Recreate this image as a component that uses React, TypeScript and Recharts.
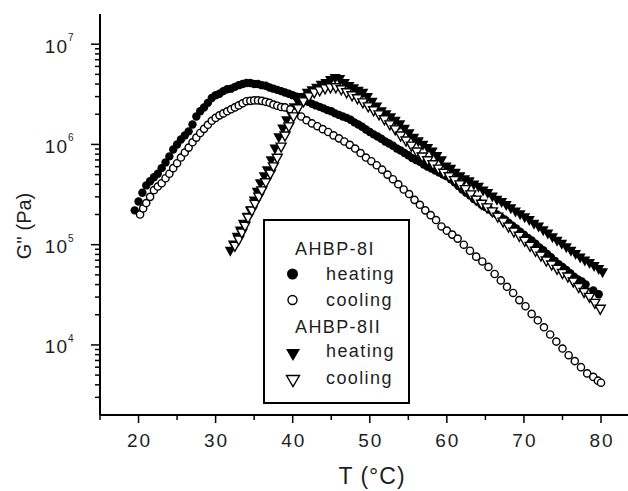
import React from 'react';
import { ScatterChart, Scatter, XAxis, YAxis, Legend } from 'recharts';

// [T (°C), G'' (Pa)]
const heating8I: [number, number][] = [
  [19.5, 2.2e5], [20.0, 2.7e5], [20.5, 3.3e5], [21.0, 3.9e5], [21.5, 4.3e5], [22.0, 4.7e5], [22.5, 5.1e5],
  [23.0, 5.8e5], [23.5, 6.6e5], [24.0, 7.6e5], [24.5, 8.9e5], [25.0, 1.0e6], [25.5, 1.12e6], [26.0, 1.23e6],
  [26.5, 1.35e6], [27.0, 1.58e6], [27.5, 1.9e6], [28.0, 2.14e6], [28.5, 2.34e6], [29.0, 2.6e6], [29.5, 2.9e6],
  [30.0, 3.1e6], [30.5, 3.2e6], [31.0, 3.4e6], [31.5, 3.55e6], [32.0, 3.6e6], [32.5, 3.75e6], [33.0, 3.9e6],
  [33.5, 4.0e6], [34.0, 4.1e6], [34.5, 4.1e6], [35.0, 4.0e6], [35.5, 4.0e6], [36.0, 3.9e6], [36.5, 3.85e6],
  [37.0, 3.7e6], [37.5, 3.6e6], [38.0, 3.5e6], [38.5, 3.4e6], [39.0, 3.3e6], [39.5, 3.2e6], [40.0, 3.1e6],
  [40.5, 3.0e6], [41.0, 2.9e6], [41.5, 2.75e6], [42.0, 2.66e6], [42.5, 2.54e6], [43.0, 2.45e6], [43.5, 2.37e6],
  [44.0, 2.29e6], [44.5, 2.2e6], [45.0, 2.14e6], [45.5, 2.04e6], [46.0, 1.97e6], [46.5, 1.9e6], [47.0, 1.84e6],
  [47.5, 1.76e6], [48.0, 1.66e6], [48.5, 1.58e6], [49.0, 1.5e6], [49.5, 1.41e6], [50.0, 1.33e6], [50.5, 1.26e6],
  [51.0, 1.2e6], [51.5, 1.14e6], [52.0, 1.07e6], [52.5, 1.02e6], [53.0, 9.7e5], [53.5, 9.1e5], [54.0, 8.7e5],
  [54.5, 8.2e5], [55.0, 7.8e5], [55.5, 7.3e5], [56.0, 7.0e5], [56.5, 6.7e5], [57.0, 6.3e5], [57.5, 6.0e5],
  [58.0, 5.75e5], [58.5, 5.5e5], [59.0, 5.25e5], [59.5, 5.0e5], [60.0, 4.8e5], [60.5, 4.5e5], [61.0, 4.2e5],
  [61.5, 3.85e5], [62.0, 3.55e5], [62.5, 3.3e5], [63.0, 3.1e5], [63.5, 2.85e5], [64.0, 2.7e5], [64.5, 2.5e5],
  [65.0, 2.37e5], [65.5, 2.24e5], [66.0, 2.1e5], [66.5, 2.0e5], [67.0, 1.88e5], [67.5, 1.78e5], [68.0, 1.66e5],
  [68.5, 1.55e5], [69.0, 1.45e5], [69.5, 1.35e5], [70.0, 1.26e5], [70.5, 1.17e5], [71.0, 1.1e5], [71.5, 1.02e5],
  [72.0, 9.4e4], [72.5, 8.8e4], [73.0, 8.1e4], [73.5, 7.5e4], [74.0, 6.9e4], [74.5, 6.4e4], [75.0, 6.0e4],
  [75.5, 5.6e4], [76.0, 5.2e4], [76.5, 4.8e4], [77.0, 4.5e4], [77.5, 4.3e4], [78.0, 4.0e4], [79.0, 3.5e4],
  [79.7, 3.2e4],
];

const cooling8I: [number, number][] = [
  [20.2, 2.0e5], [20.6, 2.3e5], [21.0, 2.6e5], [21.5, 3.0e5], [22.0, 3.5e5], [22.5, 3.8e5], [23.0, 4.1e5],
  [23.5, 4.6e5], [24.0, 5.1e5], [24.5, 5.8e5], [25.0, 6.5e5], [25.5, 7.4e5], [26.0, 8.3e5], [26.5, 9.3e5],
  [27.0, 1.05e6], [27.5, 1.17e6], [28.0, 1.3e6], [28.5, 1.43e6], [29.0, 1.57e6], [29.5, 1.72e6], [30.0, 1.84e6],
  [30.5, 1.95e6], [31.0, 2.04e6], [31.5, 2.14e6], [32.0, 2.24e6], [32.5, 2.34e6], [33.0, 2.45e6], [33.5, 2.57e6],
  [34.0, 2.7e6], [34.5, 2.72e6], [35.0, 2.75e6], [35.5, 2.75e6], [36.0, 2.72e6], [36.5, 2.66e6], [37.0, 2.6e6],
  [37.5, 2.5e6], [38.0, 2.43e6], [38.5, 2.36e6], [39.0, 2.34e6], [39.7, 2.24e6], [40.4, 2.09e6], [41.1, 1.9e6],
  [41.8, 1.74e6], [42.5, 1.62e6], [43.2, 1.52e6], [43.9, 1.42e6], [44.6, 1.33e6], [45.3, 1.23e6], [46.0, 1.15e6],
  [46.7, 1.07e6], [47.4, 9.9e5], [48.1, 9.1e5], [48.8, 8.2e5], [49.5, 7.4e5], [50.2, 6.8e5], [50.9, 6.2e5],
  [51.6, 5.6e5], [52.3, 5.0e5], [53.0, 4.5e5], [53.7, 4.0e5], [54.4, 3.55e5], [55.1, 3.2e5], [55.8, 2.8e5],
  [56.5, 2.5e5], [57.2, 2.2e5], [57.9, 1.97e5], [58.6, 1.76e5], [59.3, 1.52e5], [60.0, 1.38e5], [60.7, 1.26e5],
  [61.4, 1.15e5], [62.2, 1.0e5], [63.0, 8.7e4], [63.8, 7.6e4], [64.6, 6.8e4], [65.4, 6.0e4], [66.2, 5.1e4],
  [67.0, 4.4e4], [67.8, 3.8e4], [68.6, 3.3e4], [69.4, 2.8e4], [70.2, 2.43e4], [71.0, 2.04e4], [71.8, 1.76e4],
  [72.6, 1.5e4], [73.4, 1.27e4], [74.2, 1.08e4], [75.0, 9.2e3], [75.8, 7.9e3], [76.6, 6.9e3], [77.4, 6.0e3],
  [78.2, 5.2e3], [79.0, 4.8e3], [79.6, 4.4e3], [80.0, 4.2e3],
];

const heating8II: [number, number][] = [
  [31.9, 8.5e4], [32.3, 9.8e4], [32.8, 1.17e5], [33.2, 1.35e5], [33.6, 1.58e5], [34.1, 1.86e5], [34.5, 2.14e5],
  [35.0, 2.7e5], [35.4, 3.3e5], [35.8, 4.0e5], [36.3, 4.7e5], [36.7, 5.4e5], [37.2, 6.8e5], [37.7, 8.9e5],
  [38.2, 1.15e6], [38.7, 1.41e6], [39.2, 1.7e6], [39.7, 2.0e6], [40.2, 2.3e6], [40.7, 2.57e6], [41.3, 2.9e6],
  [41.9, 3.2e6], [42.5, 3.4e6], [43.1, 3.6e6], [43.7, 3.85e6], [44.3, 4.0e6], [44.9, 4.3e6], [45.5, 4.5e6],
  [46.1, 4.4e6], [46.7, 4.0e6], [47.3, 3.75e6], [47.9, 3.55e6], [48.5, 3.35e6], [49.1, 3.2e6], [49.7, 2.9e6],
  [50.3, 2.6e6], [50.9, 2.34e6], [51.5, 2.1e6], [52.1, 1.95e6], [52.7, 1.82e6], [53.3, 1.68e6], [53.9, 1.55e6],
  [54.5, 1.4e6], [55.1, 1.26e6], [55.7, 1.14e6], [56.3, 1.05e6], [56.9, 9.7e5], [57.5, 9.0e5], [58.1, 8.3e5],
  [58.7, 7.5e5], [59.3, 6.8e5], [59.9, 5.9e5], [60.5, 5.6e5], [61.1, 5.1e5], [61.7, 4.7e5], [62.3, 4.4e5],
  [62.9, 4.2e5], [63.5, 3.9e5], [64.1, 3.7e5], [64.7, 3.4e5], [65.3, 3.2e5], [65.9, 2.95e5], [66.5, 2.75e5],
  [67.1, 2.6e5], [67.7, 2.43e5], [68.3, 2.26e5], [68.9, 2.1e5], [69.5, 1.97e5], [70.1, 1.84e5], [70.7, 1.72e5],
  [71.3, 1.58e5], [71.9, 1.48e5], [72.5, 1.36e5], [73.1, 1.26e5], [73.7, 1.16e5], [74.3, 1.07e5], [74.9, 1.0e5],
  [75.5, 9.2e4], [76.1, 8.5e4], [76.7, 7.9e4], [77.3, 7.3e4], [77.9, 6.8e4], [78.5, 6.4e4], [79.1, 6.0e4],
  [79.7, 5.6e4], [80.2, 5.2e4],
];

const cooling8II: [number, number][] = [
  [32.5, 9.5e4], [33.0, 1.1e5], [33.4, 1.29e5], [33.8, 1.51e5], [34.2, 1.82e5], [34.7, 2.14e5], [35.1, 2.5e5],
  [35.6, 2.95e5], [36.0, 3.4e5], [36.5, 4.1e5], [37.1, 5.0e5], [37.5, 5.9e5], [38.0, 7.2e5], [38.5, 9.3e5],
  [39.0, 1.2e6], [39.5, 1.48e6], [40.1, 1.86e6], [40.7, 2.24e6], [41.4, 2.63e6], [42.1, 2.95e6], [42.8, 3.24e6],
  [43.5, 3.39e6], [44.2, 3.55e6], [44.9, 3.63e6], [45.6, 3.63e6], [46.3, 3.47e6], [47.0, 3.24e6], [47.7, 3.02e6],
  [48.4, 2.82e6], [49.1, 2.57e6], [49.8, 2.34e6], [50.5, 2.14e6], [51.2, 1.95e6], [51.9, 1.74e6], [52.6, 1.55e6],
  [53.3, 1.38e6], [54.0, 1.2e6], [54.7, 1.07e6], [55.4, 9.5e5], [56.1, 8.3e5], [56.8, 7.4e5], [57.5, 6.8e5],
  [58.2, 6.2e5], [58.9, 5.6e5], [59.6, 5.1e5], [60.3, 4.7e5], [61.0, 4.3e5], [61.7, 3.9e5], [62.4, 3.5e5],
  [63.1, 3.1e5], [63.8, 2.75e5], [64.5, 2.5e5], [65.2, 2.3e5], [65.9, 2.1e5], [66.6, 1.86e5], [67.3, 1.66e5],
  [68.0, 1.48e5], [68.7, 1.32e5], [69.4, 1.2e5], [70.1, 1.07e5], [70.8, 9.5e4], [71.5, 8.5e4], [72.2, 7.6e4],
  [72.9, 6.8e4], [73.6, 6.2e4], [74.3, 5.6e4], [75.0, 5.1e4], [75.7, 4.7e4], [76.4, 4.2e4], [77.1, 3.7e4],
  [77.8, 3.3e4], [78.5, 2.95e4], [79.2, 2.57e4], [79.9, 2.24e4],
];

const xTicks = [15, 20, 25, 30, 35, 40, 45, 50, 55, 60, 65, 70, 75, 80];
const xMajor = [20, 30, 40, 50, 60, 70, 80];
const yTicks = [
  3e3, 4e3, 5e3, 6e3, 7e3, 8e3, 9e3,
  1e4, 2e4, 3e4, 4e4, 5e4, 6e4, 7e4, 8e4, 9e4,
  1e5, 2e5, 3e5, 4e5, 5e5, 6e5, 7e5, 8e5, 9e5,
  1e6, 2e6, 3e6, 4e6, 5e6, 6e6, 7e6, 8e6, 9e6,
  1e7,
];
const yMajor = [1e4, 1e5, 1e6, 1e7];
const groupLabels = ['AHBP-8I', 'AHBP-8II'];
const runLabels = ['heating', 'cooling'];
const xTitle = 'T (°C)';
const yTitle = "G'' (Pa)";

const FONT = '"Liberation Sans", Arial, Helvetica, sans-serif';
const TEXT = '#1e1e1e';

const toPoints = (arr: [number, number][]) => arr.map(([x, y]) => ({ x, y }));

const FilledCircle = (p: any) => <circle cx={p.cx} cy={p.cy} r={4.2} fill="#000" />;
const OpenCircle = (p: any) => (
  <circle cx={p.cx} cy={p.cy} r={3.6} fill="#fff" stroke="#000" strokeWidth={1.4} />
);
const tri = (cx: number, cy: number, w: number, h: number) =>
  `${cx - w / 2},${cy - h / 2} ${cx + w / 2},${cy - h / 2} ${cx},${cy + h / 2}`;
const FilledTri = (p: any) => <polygon points={tri(p.cx, p.cy, 11, 10)} fill="#000" />;
const OpenTri = (p: any) => (
  <polygon points={tri(p.cx, p.cy, 10, 9)} fill="#fff" stroke="#000" strokeWidth={1.4} />
);

const XTick = (props: any) => {
  const { x, y, payload } = props;
  const v = payload.value;
  const major = xMajor.includes(v);
  return (
    <g>
      <line x1={x} x2={x} y1={y} y2={y + (major ? 8 : 5)} stroke="#000" strokeWidth={1.5} />
      {major && (
        <text x={x + 1} y={y + 32} textAnchor="middle" fontSize={19} fontFamily={FONT} fill={TEXT} letterSpacing={2}>
          {v}
        </text>
      )}
    </g>
  );
};

const YTick = (props: any) => {
  const { x, y, payload } = props;
  const v = payload.value;
  const major = yMajor.includes(v);
  const exp = Math.round(Math.log10(v));
  return (
    <g>
      <line x1={x - (major ? 9 : 5)} x2={x} y1={y} y2={y} stroke="#000" strokeWidth={1.5} />
      {major && (
        <g fontFamily={FONT} fill={TEXT}>
          <text x={x - 32} y={y + 8.5} textAnchor="end" fontSize={19} letterSpacing={1}>
            10
          </text>
          <text x={x - 32} y={y - 3} textAnchor="start" fontSize={10}>
            {exp}
          </text>
        </g>
      )}
    </g>
  );
};

const XTitle = () => (
  <text x={372} y={484} textAnchor="middle" fontSize={23} fontFamily={FONT} fill={TEXT} letterSpacing={1}>
    {xTitle}
  </text>
);

const YTitle = () => (
  <text
    transform="translate(24,226) rotate(-90)"
    textAnchor="middle"
    dominantBaseline="central"
    fontSize={20}
    fontFamily={FONT}
    fill={TEXT}
  >
    {yTitle}
  </text>
);

const LegendBox = () => {
  const rowText = { fontSize: 18, fontFamily: FONT, fill: TEXT, letterSpacing: 1.4 } as any;
  return (
    <div
      style={{
        width: 147,
        height: 185,
        boxSizing: 'border-box',
        border: '2px solid #000',
        background: '#fff',
        position: 'relative',
      }}
    >
      <svg
        width={147}
        height={185}
        style={{ position: 'absolute', left: -2, top: -2, overflow: 'visible' }}
      >
        <text x={32} y={36} {...rowText}>{groupLabels[0]}</text>
        <circle cx={29.5} cy={55} r={5.5} fill="#000" />
        <text x={63} y={61} {...rowText}>{runLabels[0]}</text>
        <circle cx={29.5} cy={81} r={4.5} fill="#fff" stroke="#000" strokeWidth={1.4} />
        <text x={63} y={87} {...rowText}>{runLabels[1]}</text>
        <text x={32} y={114} {...rowText}>{groupLabels[1]}</text>
        <polygon points={tri(30, 136, 14, 12)} fill="#000" />
        <text x={63} y={138} {...rowText}>{runLabels[0]}</text>
        <polygon points={tri(30, 162, 13, 11)} fill="#fff" stroke="#000" strokeWidth={1.4} />
        <text x={63} y={165} {...rowText}>{runLabels[1]}</text>
      </svg>
    </div>
  );
};

export default function App() {
  return (
    <div style={{ position: 'absolute', left: 0, top: 0, width: 628, height: 491, background: '#fff', overflow: 'hidden' }}>
      <ScatterChart width={628} height={491} margin={{ top: 14, right: 0, bottom: 0, left: 0 }}>
        <XAxis
          dataKey="x"
          type="number"
          domain={[15, 83.5]}
          allowDataOverflow
          ticks={xTicks}
          interval={0}
          height={76}
          tickSize={0}
          tickMargin={0}
          tickLine={false}
          tick={<XTick />}
          axisLine={{ stroke: '#000', strokeWidth: 2 }}
          label={{ content: XTitle } as any}
        />
        <XAxis
          xAxisId="top"
          orientation="top"
          type="number"
          domain={[15, 83.5]}
          allowDataOverflow
          height={0}
          tick={false}
          tickLine={false}
          axisLine={{ stroke: '#000', strokeWidth: 2 }}
        />
        <YAxis
          dataKey="y"
          type="number"
          scale="log"
          domain={[2000, 2e7]}
          allowDataOverflow
          ticks={yTicks}
          interval={0}
          width={100}
          tickSize={0}
          tickMargin={0}
          tickLine={false}
          tick={<YTick />}
          axisLine={{ stroke: '#000', strokeWidth: 2 }}
          label={{ content: YTitle } as any}
        />
        <Legend
          layout="vertical"
          align="center"
          verticalAlign="middle"
          content={<LegendBox />}
          wrapperStyle={{ position: 'absolute', left: 263, top: 219, width: 147, height: 185 }}
        />
        <Scatter name="AHBP-8I heating" data={toPoints(heating8I)} shape={FilledCircle} isAnimationActive={false} />
        <Scatter name="AHBP-8II heating" data={toPoints(heating8II)} shape={FilledTri} isAnimationActive={false} />
        <Scatter name="AHBP-8I cooling" data={toPoints(cooling8I)} shape={OpenCircle} isAnimationActive={false} />
        <Scatter name="AHBP-8II cooling" data={toPoints(cooling8II)} shape={OpenTri} isAnimationActive={false} />
      </ScatterChart>
    </div>
  );
}
